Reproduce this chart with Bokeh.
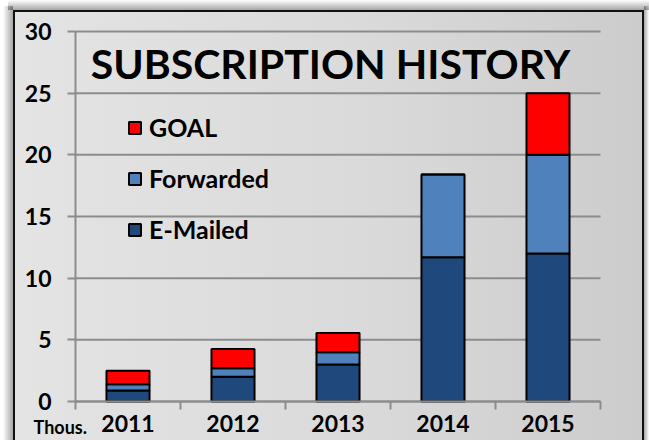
from bokeh.plotting import figure
from bokeh.models import Range1d, FixedTicker, Legend, LegendItem, Label, ColumnDataSource
from bokeh.embed import file_html
from bokeh.resources import INLINE

years = ["2011", "2012", "2013", "2014", "2015"]
emailed = [0.9, 2.0, 3.0, 11.7, 12.0]
forwarded = [0.5, 0.7, 1.0, 6.7, 8.0]
goal = [1.1, 1.55, 1.55, 0.0, 5.0]
series = ["E-Mailed", "Forwarded", "GOAL"]
colors = ["#1f497d", "#4f81bd", "#ff0000"]
y_ticks = [0, 5, 10, 15, 20, 25, 30]
title_text = "SUBSCRIPTION HISTORY"
unit_text = "Thous."

FONT = "Lato"
GRID = "#8c8c8c"
W, H = 649, 440
# plot area in pixels: left 75, right 600, y=0 at 401, y=30 at 31
PX_L, PX_R, PX_B, PX_T = 75, 600, 401, 31
n = len(years)
ymax = y_ticks[-1]
ux = (PX_R - PX_L) / n
uy = (PX_B - PX_T) / ymax

xpos = [i + 0.5 for i in range(n)]
src = ColumnDataSource(dict(x=xpos, **{"E-Mailed": emailed, "Forwarded": forwarded, "GOAL": goal}))

p = figure(width=W, height=H, output_backend="svg", toolbar_location=None,
           x_range=Range1d(-PX_L / ux, (W - PX_L) / ux),
           y_range=Range1d(-(H - PX_B) / uy, PX_B / uy),
           min_border=0)
bg = ", ".join([
    "linear-gradient(#111,#111) 13px 10px / 631px 2px no-repeat",
    "linear-gradient(#111,#111) 13px 10px / 2px 430px no-repeat",
    "linear-gradient(#111,#111) 642px 10px / 2px 430px no-repeat",
    "linear-gradient(90deg, #e4e4e4 0%, #dadada 55%, #cccccc 100%) 15px 12px / 627px 428px no-repeat",
    "linear-gradient(90deg, rgba(0,0,0,0) 0%, rgba(0,0,0,0.35) 100%) 3px 6px / 10px 434px no-repeat",
    "linear-gradient(180deg, rgba(0,0,0,0) 0%, rgba(0,0,0,0.35) 100%) 8px 0px / 641px 10px no-repeat",
    "linear-gradient(270deg, rgba(0,0,0,0) 0%, rgba(0,0,0,0.35) 100%) 644px 6px / 5px 434px no-repeat",
    "#ffffff",
])
p.styles = {"background": bg}
p.border_fill_alpha = 0
p.background_fill_alpha = 0
p.outline_line_color = None
p.xgrid.grid_line_color = None
p.ygrid.grid_line_color = None

# horizontal gridlines at the y ticks, spanning the category area
p.segment(x0=[0] * len(y_ticks), x1=[n] * len(y_ticks), y0=y_ticks, y1=y_ticks,
          line_color=GRID, line_width=2)

renderers = p.vbar_stack(series, x="x", width=0.41, source=src, fill_color=colors,
                         line_color="black", line_width=2)

# y axis (drawn at x = 0)
p.yaxis.fixed_location = 0
p.yaxis.bounds = (0, ymax)
p.yaxis.ticker = FixedTicker(ticks=y_ticks)
p.yaxis.axis_line_color = GRID
p.yaxis.axis_line_width = 2
p.yaxis.major_tick_line_color = GRID
p.yaxis.major_tick_line_width = 2
p.yaxis.major_tick_out = 8
p.yaxis.major_tick_in = 0
p.yaxis.minor_tick_line_color = None
p.yaxis.major_label_standoff = 16
p.yaxis.major_label_text_font = FONT
p.yaxis.major_label_text_font_style = "bold"
p.yaxis.major_label_text_font_size = "23px"
p.yaxis.major_label_text_color = "black"

# x axis (drawn at y = 0), ticks between categories, labels at centres
p.xaxis.fixed_location = 0
p.xaxis.bounds = (0, n)
p.xaxis.ticker = FixedTicker(ticks=xpos, minor_ticks=list(range(n + 1)))
p.xaxis.major_label_overrides = {x: y for x, y in zip(xpos, years)}
p.xaxis.axis_line_color = GRID
p.xaxis.axis_line_width = 2
p.xaxis.major_tick_line_color = None
p.xaxis.major_tick_out = 0
p.xaxis.major_tick_in = 0
p.xaxis.minor_tick_line_color = GRID
p.xaxis.minor_tick_line_width = 2
p.xaxis.minor_tick_out = 8
p.xaxis.minor_tick_in = 0
p.xaxis.major_label_standoff = 5
p.xaxis.major_label_text_font = FONT
p.xaxis.major_label_text_font_style = "bold"
p.xaxis.major_label_text_font_size = "23px"
p.xaxis.major_label_text_color = "black"

# legend (GOAL on top)
items = [LegendItem(label=s, renderers=[r]) for s, r in zip(series, renderers)][::-1]
legend = Legend(items=items, location=(127, 196), orientation="vertical",
                background_fill_alpha=0, border_line_color=None,
                glyph_width=15, glyph_height=15, label_standoff=7,
                spacing=21, padding=0, margin=0,
                label_text_font=FONT, label_text_font_style="bold",
                label_text_font_size="25px", label_text_color="black")
p.add_layout(legend, "center")

p.add_layout(Label(x=330, y=H - 63, x_units="screen", y_units="screen", text=title_text,
                   text_align="center", text_baseline="middle",
                   text_font=FONT, text_font_style="bold", text_font_size="41px",
                   text_color="black"))
p.add_layout(Label(x=33, y=H - 426, x_units="screen", y_units="screen", text=unit_text,
                   text_align="left", text_baseline="middle",
                   text_font=FONT, text_font_style="bold", text_font_size="18px",
                   text_color="black"))

open("out.html", "w").write(file_html(p, INLINE))
